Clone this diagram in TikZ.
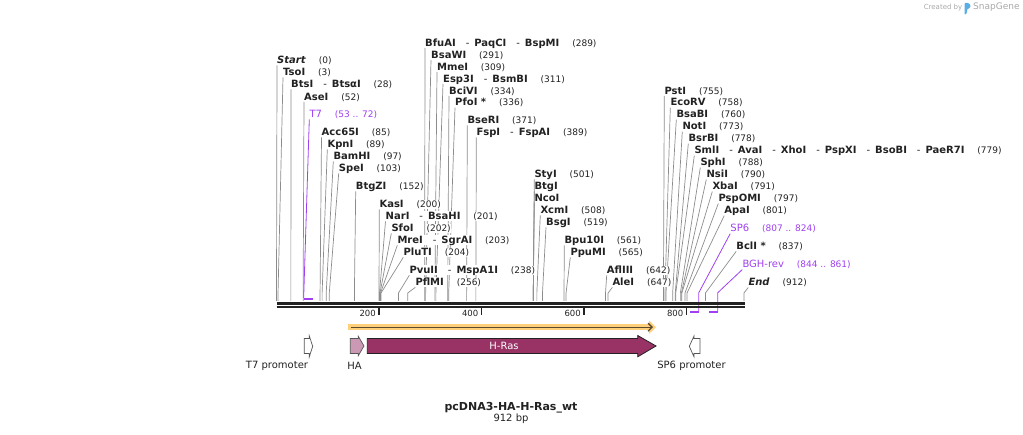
\documentclass[tikz,border=0pt]{standalone}
\usepackage{fontspec}
\setmainfont{DejaVu Sans}
\usetikzlibrary{arrows.meta,positioning,calc,backgrounds}
\definecolor{ink}{HTML}{222222}
\definecolor{leadgray}{HTML}{8C8C8C}
\definecolor{primer}{HTML}{A040F0}
\definecolor{ras}{HTML}{993366}
\definecolor{hatag}{HTML}{CC99B5}
\definecolor{orf}{HTML}{FFCF7A}
\definecolor{orfline}{HTML}{5A4A30}
\definecolor{edge}{HTML}{555555}
\definecolor{muted}{HTML}{A8A8A8}
\definecolor{logo}{HTML}{5AAEE8}
% separator between isoschizomers
\newcommand{\alt}{\hspace{10pt}{\mdseries -}\hspace{5pt}}
% one cut site: id, label x, label y, text, bp, position
\newcommand{\cut}[6]{%
  \node[enz] (#1) at (#2,#3) {#4};
  \node[num, base right=12pt of #1] (#1n) {#6};
  \coordinate (#1s) at ({276.5+0.5125*#5},301);
  \begin{pgfonlayer}{background}
    \draw[lead] (#1.south west) -- ($(#1s)+(0,-8)$) -- (#1s);
  \end{pgfonlayer}
}
\tikzset{
  enz/.style={font=\fontsize{10}{12}\selectfont\bfseries, text=ink, fill=white, anchor=west, inner xsep=0pt, inner ysep=1.5pt, text height=7.3pt, text depth=0pt},
  num/.style={font=\fontsize{9}{11}\selectfont, text=ink, fill=white, inner sep=0.5pt},
  lead/.style={draw=leadgray, line width=0.7pt},
  prim/.style={font=\fontsize{10}{12}\selectfont, text=primer, fill=white, anchor=west, inner xsep=0pt, inner ysep=1.5pt, text height=7.3pt, text depth=0pt},
  primnum/.style={num, text=primer},
  primlead/.style={draw=primer, line width=0.8pt},
  bracket/.style={draw=primer, line width=2pt},
  ruler/.style={draw=ink},
  ticklabel/.style={font=\fontsize{8.5}{10}\selectfont, text=ink, inner sep=0pt},
  promo/.style={draw=edge, fill=white, line width=0.7pt},
  haarrow/.style={draw=edge, fill=hatag, line width=0.7pt},
  rasarrow/.style={draw=ink, fill=ras, line width=0.8pt},
  orfband/.style={draw=orf, line width=6pt, -{Triangle[length=7pt,width=13pt]}},
  orfarrow/.style={draw=orfline, line width=1.3pt, -{Straight Barb[length=4pt,width=8pt]}},
  featlabel/.style={font=\fontsize{10}{12}\selectfont, text=ink},
  title/.style={font=\fontsize{11}{13}\selectfont\bfseries, text=ink},
  subtitle/.style={font=\fontsize{10}{12}\selectfont, text=ink}
}
\begin{document}
\begin{tikzpicture}[x=1pt,y=-1pt]
\useasboundingbox (0,0) rectangle (1023,435);

% Credit
\node[font=\fontsize{7}{8}\selectfont, text=muted, anchor=east, inner sep=0pt] (created) at (962.5,7.5) {Created by};
\node[font=\fontsize{9}{10}\selectfont, text=muted, anchor=west, inner sep=0pt] (brand) at (973,7.5) {SnapGene};
\fill[logo, rounded corners=0.8pt] (964.5,3) -- (968.5,3) -- (971,6) -- (968.5,9) -- (967,9) -- (967,13) -- (964.5,15) -- cycle;

% Cut sites, left group
\cut{start}{277}{60}{\textit{Start}}{0}{(0)}
\cut{tso}{283}{72}{TsoI}{3}{(3)}
\cut{bts}{291}{84}{BtsI\alt BtsαI}{28}{(28)}
\cut{ase}{304}{96.5}{AseI}{52}{(52)}
\cut{acc}{321.5}{132}{Acc65I}{85}{(85)}
\cut{kpn}{327.3}{144}{KpnI}{89}{(89)}
\cut{bam}{333.3}{156}{BamHI}{97}{(97)}
\cut{spe}{338.7}{168}{SpeI}{103}{(103)}
\cut{btgz}{355.7}{186}{BtgZI}{152}{(152)}
\cut{kas}{379.3}{204}{KasI}{200}{(200)}
\cut{nar}{385.5}{216}{NarI\alt BsaHI}{201}{(201)}
\cut{sfo}{391.3}{228}{SfoI}{202}{(202)}
\cut{mre}{397.3}{240}{MreI\alt SgrAI}{203}{(203)}
\cut{plu}{403.3}{252}{PluTI}{204}{(204)}
\cut{pvu}{409.3}{270}{PvuII\alt MspA1I}{238}{(238)}
\cut{pfl}{415.3}{282}{PflMI}{256}{(256)}

% Cut sites, middle group
\cut{bfu}{425}{42.5}{BfuAI\alt PaqCI\alt BspMI}{289}{(289)}
\cut{bsaw}{431}{54.5}{BsaWI}{291}{(291)}
\cut{mme}{437}{66.5}{MmeI}{309}{(309)}
\cut{esp}{443}{78.5}{Esp3I\alt BsmBI}{311}{(311)}
\cut{bci}{449}{90.5}{BciVI}{334}{(334)}
\cut{pfo}{455}{102.3}{PfoI *}{336}{(336)}
\cut{bser}{467.3}{120}{BseRI}{371}{(371)}
\cut{fsp}{476.3}{132}{FspI\alt FspAI}{389}{(389)}
\cut{sty}{534.3}{174}{StyI}{501}{(501)}
\cut{btg}{534.3}{186}{BtgI}{501}{}
\cut{nco}{534.3}{198}{NcoI}{501}{}
\cut{xcm}{540.3}{210}{XcmI}{508}{(508)}
\cut{bsg}{546}{222}{BsgI}{519}{(519)}
\cut{bpu}{564.3}{240}{Bpu10I}{561}{(561)}
\cut{ppu}{570.3}{252}{PpuMI}{565}{(565)}
\cut{afl}{606.7}{270}{AflIII}{642}{(642)}
\cut{ale}{612.3}{282}{AleI}{647}{(647)}

% Cut sites, right group
\cut{pst}{664.3}{90.5}{PstI}{755}{(755)}
\cut{eco}{670.3}{102.3}{EcoRV}{758}{(758)}
\cut{bsab}{676.3}{114.3}{BsaBI}{760}{(760)}
\cut{not}{682.3}{126.2}{NotI}{773}{(773)}
\cut{bsrb}{688.3}{138.2}{BsrBI}{778}{(778)}
\cut{sml}{694.3}{150.3}{SmlI\alt AvaI\alt XhoI\alt PspXI\alt BsoBI\alt PaeR7I}{779}{(779)}
\cut{sph}{700.3}{162.3}{SphI}{788}{(788)}
\cut{nsi}{706.3}{174.2}{NsiI}{790}{(790)}
\cut{xba}{712.3}{186.2}{XbaI}{791}{(791)}
\cut{psp}{718.3}{198.2}{PspOMI}{797}{(797)}
\cut{apa}{724.2}{210.3}{ApaI}{801}{(801)}
\cut{bcl}{736.2}{246}{BclI *}{837}{(837)}
\cut{end}{748.3}{282.2}{\textit{End}}{912}{(912)}

% Primers
\node[prim] (t7) at (309.3,114) {T7};
\node[primnum, base right=12pt of t7] (t7n) {(53 .. 72)};
\coordinate (t7a) at ({276.5+0.5125*53},298.8);
\coordinate (t7b) at ({276.5+0.5125*72},298.8);
\begin{pgfonlayer}{background}
  \draw[primlead] (t7.south west) -- ($(t7a)+(0,-1)$);
\end{pgfonlayer}
\draw[bracket] (t7a) -- (t7b);

\node[prim] (sp6) at (730.2,228.3) {SP6};
\node[primnum, base right=12pt of sp6] (sp6n) {(807 .. 824)};
\coordinate (sp6a) at ({276.5+0.5125*824},311.7);
\coordinate (sp6b) at ({276.5+0.5125*807},311.7);
\begin{pgfonlayer}{background}
  \draw[primlead] (sp6.south west) -- ($(sp6a)+(0,-19)$) -- (sp6a);
\end{pgfonlayer}
\draw[bracket] (sp6a) -- (sp6b);

\node[prim] (bgh) at (742.3,264.2) {BGH-rev};
\node[primnum, base right=12pt of bgh] (bghn) {(844 .. 861)};
\coordinate (bgha) at ({276.5+0.5125*861},311.7);
\coordinate (bghb) at ({276.5+0.5125*844},311.7);
\begin{pgfonlayer}{background}
  \draw[primlead] (bgh.south west) -- ($(bgha)+(0,-19)$) -- (bgha);
\end{pgfonlayer}
\draw[bracket] (bgha) -- (bghb);

% Ruler
\draw[ruler, line width=3pt] (276.5,303.5) -- (745,303.5);
\draw[ruler, line width=2.2pt] (276.5,307.3) -- (745,307.3);
\foreach \t in {200,400,600,800} {
  \draw[ruler, line width=1.4pt] ({276.5+0.5125*\t},308) -- ({276.5+0.5125*\t},315);
  \node[ticklabel, anchor=east] (tick\t) at ({276.5+0.5125*\t-3},313.5) {\t};
}

% Features
\coordinate (orfs) at (348.3,327.2);
\coordinate (orfe) at (656,327.2);
\draw[orfband] (orfs) -- (orfe);
\draw[orfarrow] ($(orfs)+(3,0)$) -- ($(orfe)+(-3,0)$);

\draw[promo] (304.3,338.5) -- (309.3,338.5) -- (309.3,336) -- (312.7,346.3) -- (309.3,356.8) -- (309.3,353.5) -- (304.3,353.5) -- cycle;
\draw[haarrow] (350.3,338.5) -- (358.3,338.5) -- (358.3,336.3) -- (364,346) -- (358.3,355.7) -- (358.3,353.5) -- (350.3,353.5) -- cycle;
\draw[rasarrow] (367.3,338.5) -- (637.7,338.5) -- (637.7,335.5) -- (656,346) -- (637.7,356.8) -- (637.7,353.5) -- (367.3,353.5) -- cycle;
\node[font=\fontsize{10}{12}\selectfont, text=white] (ras) at (504,346) {H-Ras};
\draw[promo] (700,338.5) -- (694,338.5) -- (694,336) -- (689.3,346.3) -- (694,356.8) -- (694,353.5) -- (700,353.5) -- cycle;

\node[featlabel] (t7p) at (277,365.5) {T7 promoter};
\node[featlabel] (ha) at (354.5,365.5) {HA};
\node[featlabel] (sp6p) at (691.5,365.5) {SP6 promoter};

% Title
\node[title] (name) at (511,407.5) {pcDNA3-HA-H-Ras\_wt};
\node[subtitle] (len) at (511,419) {912 bp};

\end{tikzpicture}
\end{document}
